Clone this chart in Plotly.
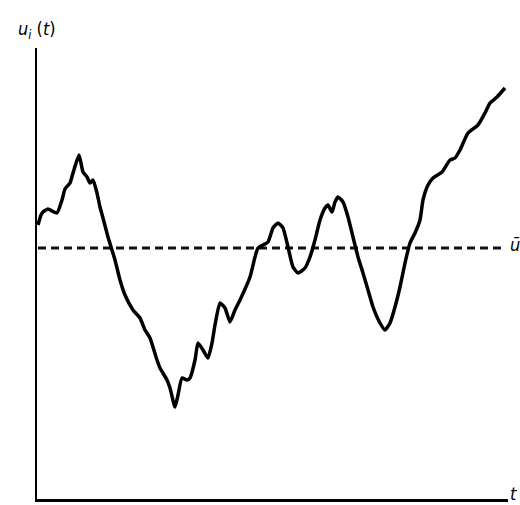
import plotly.graph_objects as go

# time axis and fluctuating velocity u_i(t) (arbitrary units, mean = 0)
t = [0, 3, 5, 10, 14, 19, 24, 27, 32, 35, 41, 45, 49, 52, 55, 59, 62, 65, 70, 74, 77,
     82, 87, 95, 102, 107, 112, 119, 122, 129, 132, 137, 140, 144, 149, 152, 157, 160,
     165, 170, 174, 177, 182, 187, 192, 197, 202, 212, 217, 220, 225, 230, 235, 240,
     245, 250, 255, 260, 267, 272, 277, 282, 287, 290, 294, 297, 300, 305, 310, 315,
     320, 325, 330, 335, 342, 347, 352, 357, 362, 367, 372, 377, 382, 385, 390, 395,
     404, 412, 417, 422, 430, 440, 447, 452, 459, 467]
u = [23, 33, 36, 39, 37, 35, 48, 59, 65, 75, 93, 76, 71, 65, 68, 55, 41, 30, 11, -2, -12,
     -32, -47, -62, -70, -82, -90, -112, -120, -132, -140, -159, -147, -130, -132, -130,
     -112, -95, -102, -110, -95, -77, -55, -60, -74, -62, -52, -29, -9, 0, 3, 6, 20, 25,
     20, 1, -19, -25, -20, -9, 8, 28, 40, 43, 36, 46, 51, 46, 31, 11, -9, -25, -42, -59,
     -75, -82, -75, -59, -39, -15, 5, 15, 28, 48, 63, 70, 76, 88, 90, 98, 115, 123, 135,
     145, 151, 160]
u_mean = 0
t_mean = [0, 466]

fig = go.Figure()
fig.add_trace(go.Scatter(x=t_mean, y=[u_mean, u_mean], mode="lines",
                         line=dict(color="#111", width=2.8, dash="8px,5px"),
                         hoverinfo="skip"))
fig.add_trace(go.Scatter(x=t, y=u, mode="lines",
                         line=dict(color="#000", width=3.5, shape="spline", smoothing=0.5)))

lab_font = dict(family="Liberation Sans Narrow, DejaVu Sans Condensed, Liberation Sans", size=18, color="#000")
fig.add_annotation(x=-0.045, y=1.04, xref="paper", yref="paper", xanchor="left", yanchor="middle",
                   text="<i>u</i><sub><i>i</i></sub> (<i>t</i>)", showarrow=False, font=lab_font)
fig.add_annotation(x=1.0, y=0.564, xref="paper", yref="paper", xanchor="left", yanchor="middle",
                   text="<i>ū</i>", showarrow=False, font=lab_font)
fig.add_annotation(x=1.0, y=0.012, xref="paper", yref="paper", xanchor="left", yanchor="middle",
                   text="<i>t</i>", showarrow=False, font=lab_font)

fig.update_layout(
    width=520, height=505,
    margin=dict(l=37, r=12, t=48, b=6),
    plot_bgcolor="white", paper_bgcolor="white",
    showlegend=False,
)
fig.update_xaxes(range=[-1, 470], showgrid=False, zeroline=False, showticklabels=False,
                 ticks="", showline=True, linecolor="#000", linewidth=2.5)
fig.update_yaxes(range=[-251, 200], showgrid=False, zeroline=False, showticklabels=False,
                 ticks="", showline=True, linecolor="#000", linewidth=2)

fig.write_html("out.html", config={"displayModeBar": False},
               post_script="document.body.style.margin='0';document.body.style.overflow='hidden';")
